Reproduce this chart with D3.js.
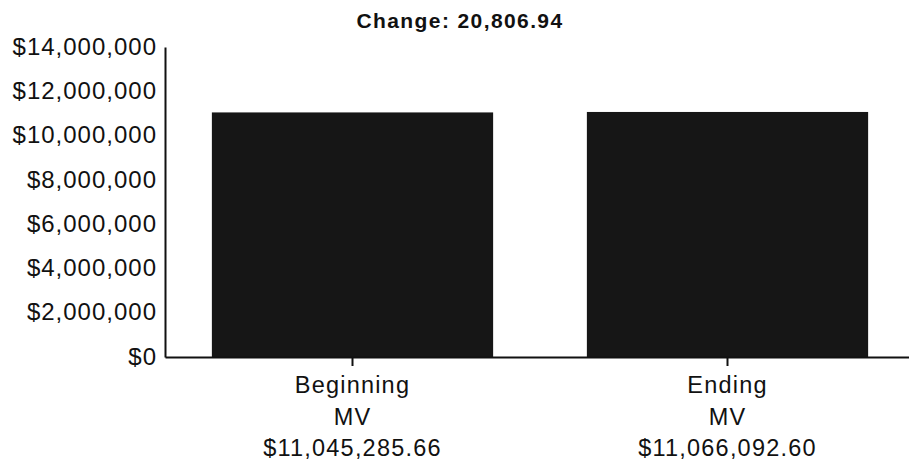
<!DOCTYPE html>
<html>
<head>
<meta charset="utf-8">
<script src="https://cdn.jsdelivr.net/npm/d3@7"></script>
<style>
  body { margin: 0; background: #fff; }
  text { font-family: "Liberation Sans", Arial, sans-serif; fill: #111; }
</style>
</head>
<body>
<div id="chart"></div>
<script>
// data
const categories = ["Beginning", "Ending"];
const subLabels = ["MV", "MV"];
const values = [11045285.66, 11066092.60];
const valueLabels = ["$11,045,285.66", "$11,066,092.60"];
const yTicks = [0, 2000000, 4000000, 6000000, 8000000, 10000000, 12000000, 14000000];
const title = "Change: 20,806.94";

const width = 909;
const height = 470;
const margin = { top: 47, right: -6, bottom: 113, left: 165 };

const svg = d3
  .select("#chart")
  .append("svg")
  .attr("width", width)
  .attr("height", height);

const x = d3
  .scaleBand()
  .domain(categories)
  .range([margin.left, width - margin.right])
  .paddingInner(0.25)
  .paddingOuter(0.125);

const y = d3
  .scaleLinear()
  .domain([0, 14000000])
  .range([height - margin.bottom, margin.top]);

// bars
svg
  .selectAll(".bar")
  .data(values)
  .enter()
  .append("rect")
  .attr("class", "bar")
  .attr("x", (d, i) => x(categories[i]))
  .attr("width", x.bandwidth())
  .attr("y", d => y(d))
  .attr("height", d => y(0) - y(d))
  .style("fill", "#161616");

// y axis
const yAxis = svg
  .append("g")
  .attr("transform", "translate(" + margin.left + ",0)")
  .call(
    d3.axisLeft(y)
      .tickValues(yTicks)
      .tickSize(0)
      .tickPadding(8)
      .tickFormat(d => "$" + d3.format(",")(d))
  );
yAxis.select(".domain").style("stroke", "#111").style("stroke-width", 2);
yAxis
  .selectAll("text")
  .attr("dy", "0.3em")
  .style("font-size", "24px")
  .style("letter-spacing", "1px")
  .style("font-family", "'Liberation Sans', Arial, sans-serif")
  .style("fill", "#111");

// x axis
const xAxis = svg
  .append("g")
  .attr("transform", "translate(0," + y(0) + ")")
  .call(d3.axisBottom(x).tickSize(9).tickSizeOuter(0).tickFormat(""));
xAxis.select(".domain").style("stroke", "#111").style("stroke-width", 2);
xAxis.selectAll(".tick line").style("stroke", "#111").style("stroke-width", 2);

// multi-line category labels
const lab = svg
  .selectAll(".xlabel")
  .data(categories)
  .enter()
  .append("text")
  .attr("class", "xlabel")
  .attr("text-anchor", "middle")
  .style("font-size", "23.5px")
  .style("letter-spacing", "1.2px");

lab.each(function(d, i) {
  const cx = x(d) + x.bandwidth() / 2;
  const t = d3.select(this);
  [d, subLabels[i], valueLabels[i]].forEach((line, k) => {
    t.append("tspan")
      .attr("x", cx)
      .attr("y", 393 + k * 31.5)
      .text(line);
  });
});

// title
svg
  .append("text")
  .attr("x", 460)
  .attr("y", 28)
  .attr("text-anchor", "middle")
  .style("font-size", "21px")
  .style("font-weight", "bold")
  .style("letter-spacing", "1.4px")
  .text(title);
</script>
</body>
</html>
